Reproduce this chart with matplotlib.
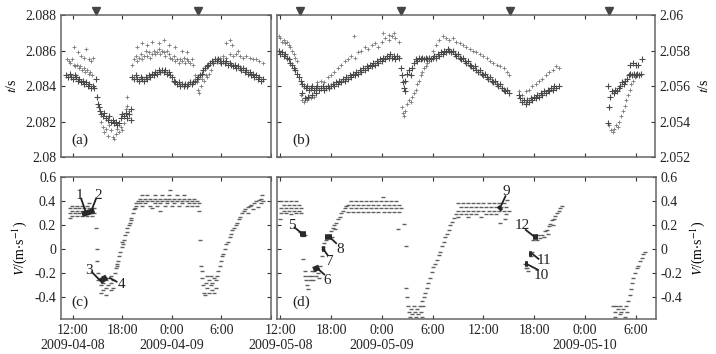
import numpy as np
import matplotlib
matplotlib.use("Agg")
import matplotlib.pyplot as plt
from matplotlib.transforms import blended_transform_factory

plt.rcParams['font.family'] = ['Liberation Serif', 'DejaVu Serif']
plt.rcParams['mathtext.fontset'] = 'stix'
plt.rcParams['axes.unicode_minus'] = False
plt.rcParams['font.size'] = 10

# time in hours from 00:00 of the first day of each record
# (a) travel time t/s, 2009-04-08 .. 04-09
ta_big = [(11.2,2.0846),(11.4,2.0845),(11.6,2.0847),(11.8,2.0845),(12.0,2.0844),(12.2,2.0846),(12.4,2.0845),(12.6,2.0843),
          (12.8,2.0844),(13.0,2.0842),(13.2,2.0843),(13.4,2.0841),(13.6,2.0842),(13.8,2.0840),(14.0,2.0841),(14.2,2.0839),
          (14.4,2.0840),(14.6,2.0839),(14.8,2.0844),(14.9,2.0834),(15.0,2.0830),(15.2,2.0828),(15.3,2.0826),
          (15.4,2.0824),(15.6,2.0823),(15.8,2.0825),(16.0,2.0822),(16.2,2.0821),(16.4,2.0823),(16.6,2.0820),(16.8,2.0821),
          (17.0,2.0819),(17.2,2.0820),(17.4,2.0818),(17.6,2.0819),(17.8,2.0822),(18.0,2.0824),(18.2,2.0823),(18.4,2.0825),
          (18.6,2.0822),(18.8,2.0824),(19.0,2.0821),(19.0,2.0827),
          (19.2,2.0845),(19.4,2.0844),(19.6,2.0846),(19.8,2.0844),(20.0,2.0843),(20.2,2.0845),(20.4,2.0844),(20.6,2.0843),
          (20.8,2.0845),(21.0,2.0844),(21.2,2.0846),(21.4,2.0845),(21.6,2.0847),(21.8,2.0846),(22.0,2.0848),(22.2,2.0847),
          (22.4,2.0849),(22.6,2.0848),(22.8,2.0849),(23.0,2.0848),(23.2,2.0849),(23.4,2.0847),(23.6,2.0848),(23.8,2.0846),
          (24.0,2.0845),(24.2,2.0843),(24.4,2.0842),(24.6,2.0841),(24.8,2.0842),(25.0,2.0840),(25.2,2.0841),(25.4,2.0840),
          (25.6,2.0841),(25.8,2.0840),(26.0,2.0841),(26.2,2.0842),(26.4,2.0841),(26.6,2.0842),(26.8,2.0843),(27.0,2.0844),
          (27.2,2.0845),(27.4,2.0846),(27.6,2.0847),(27.8,2.0849),(28.0,2.0850),(28.2,2.0851),(28.4,2.0852),(28.6,2.0853),
          (28.8,2.0854),(29.0,2.0853),(29.2,2.0855),(29.4,2.0854),(29.6,2.0855),(29.8,2.0854),(30.0,2.0853),(30.2,2.0854),
          (30.4,2.0853),(30.6,2.0854),(30.8,2.0852),(31.0,2.0853),(31.2,2.0852),(31.4,2.0851),(31.6,2.0852),(31.8,2.0850),
          (32.0,2.0851),(32.2,2.0850),(32.4,2.0849),(32.6,2.0850),(32.8,2.0848),(33.0,2.0849),(33.2,2.0847),(33.4,2.0848),
          (33.6,2.0846),(33.8,2.0847),(34.0,2.0845),(34.2,2.0846),(34.4,2.0844),(34.6,2.0845),(34.8,2.0843),(35.0,2.0844)]
ta_small = [(11.3,2.0855),(11.5,2.0854),(11.7,2.0853),(11.9,2.0855),(12.1,2.0852),(12.3,2.0851),(12.5,2.0852),(12.7,2.0850),
            (12.9,2.0851),(13.1,2.0849),(13.3,2.0850),(13.5,2.0848),(13.7,2.0849),(13.9,2.0847),(14.1,2.0848),(14.3,2.0846),
            (12.1,2.0862),(12.6,2.0859),(13.0,2.0857),(13.4,2.0856),(13.6,2.0861),(13.9,2.0855),(14.2,2.0854),(14.4,2.0856),
            (15.4,2.0820),(15.6,2.0817),(15.8,2.0814),(16.0,2.0816),(16.2,2.0812),(16.4,2.0818),(16.6,2.0815),(16.8,2.0811),
            (17.0,2.0810),(17.2,2.0813),(17.4,2.0816),(17.6,2.0814),(17.8,2.0817),(18.0,2.0815),(18.2,2.0819),(18.4,2.0827),
            (18.6,2.0829),(18.8,2.0826),(18.5,2.0834),
            (19.2,2.0852),(19.4,2.0855),(19.6,2.0857),(19.8,2.0854),(20.0,2.0856),(20.2,2.0858),(20.4,2.0855),(20.6,2.0857),
            (20.8,2.0860),(21.0,2.0857),(21.2,2.0859),(21.4,2.0856),(21.6,2.0858),(21.8,2.0860),(22.0,2.0858),(22.2,2.0859),
            (22.4,2.0861),(22.6,2.0858),(22.8,2.0860),(23.0,2.0859),(23.2,2.0857),(23.4,2.0860),(23.6,2.0858),(23.8,2.0856),
            (24.0,2.0855),(24.2,2.0857),(24.4,2.0854),(24.6,2.0855),(24.8,2.0853),(25.0,2.0855),(25.2,2.0854),(25.4,2.0856),
            (25.6,2.0853),(25.8,2.0855),(26.0,2.0854),(26.2,2.0853),(26.4,2.0855),(26.6,2.0852),
            (19.8,2.0862),(20.4,2.0864),(21.0,2.0863),(21.6,2.0865),(22.4,2.0864),(23.0,2.0866),(23.6,2.0863),(24.4,2.0862),
            (25.2,2.0860),(25.8,2.0859),
            (26.8,2.0846),(27.0,2.0842),(27.2,2.0838),(27.3,2.0836),(27.5,2.0840),(27.7,2.0844),(27.9,2.0843),(28.1,2.0846),
            (28.3,2.0845),(28.5,2.0847),(28.7,2.0849),
            (29.0,2.0853),(29.4,2.0855),(29.8,2.0856),(30.2,2.0857),(30.6,2.0856),(31.0,2.0858),(31.4,2.0857),(31.8,2.0858),
            (32.2,2.0857),(32.6,2.0856),(33.0,2.0857),(33.4,2.0856),(33.8,2.0855),(34.2,2.0855),(34.6,2.0854),(35.0,2.0853),
            (30.6,2.0864),(31.0,2.0866),(31.3,2.0863),(32.0,2.0860)]

# (b) travel time t/s, 2009-05-08 .. 05-10
tb_big = [(11.8,2.0580),(12.0,2.0578),(12.2,2.0579),(12.4,2.0577),(12.6,2.0578),(12.8,2.0576),(13.0,2.0575),(13.2,2.0573),
          (13.4,2.0572),(13.6,2.0570),(13.8,2.0569),(14.0,2.0567),(14.2,2.0565),(14.4,2.0563),(14.6,2.0561),(14.8,2.0560),
          (15.0,2.0559),(15.2,2.0560),(15.4,2.0558),(15.6,2.0559),(15.8,2.0560),(16.0,2.0558),(16.2,2.0559),(16.4,2.0560),
          (16.6,2.0558),(16.8,2.0559),(17.0,2.0560),(17.2,2.0558),(17.4,2.0559),(17.6,2.0560),(17.8,2.0559),(18.0,2.0560),
          (14.6,2.0556),(14.9,2.0553),(15.3,2.0554),(15.7,2.0555),(16.2,2.0556),
          (18.2,2.0561),(18.4,2.0560),(18.6,2.0562),(18.8,2.0561),(19.0,2.0563),(19.2,2.0562),(19.4,2.0564),(19.6,2.0563),
          (19.8,2.0565),(20.0,2.0564),(20.2,2.0566),(20.4,2.0565),(20.6,2.0567),(20.8,2.0566),(21.0,2.0568),(21.2,2.0567),
          (21.4,2.0569),(21.6,2.0568),(21.8,2.0570),(22.0,2.0569),(22.2,2.0571),(22.4,2.0570),(22.6,2.0572),(22.8,2.0571),
          (23.0,2.0573),(23.2,2.0572),(23.4,2.0574),(23.6,2.0573),(23.8,2.0575),(24.0,2.0574),(24.2,2.0576),(24.4,2.0575),
          (24.6,2.0577),(24.8,2.0576),(25.0,2.0578),(25.2,2.0576),(25.4,2.0577),(25.6,2.0575),(25.8,2.0577),(26.0,2.0576),
          (26.3,2.0570),(26.4,2.0566),(26.5,2.0562),(26.6,2.0559),(26.7,2.0557),(26.8,2.0563),(27.0,2.0567),(27.2,2.0569),
          (27.4,2.0566),(27.6,2.0570),(27.8,2.0573),(28.0,2.0575),(28.2,2.0574),(28.4,2.0576),(28.6,2.0575),(28.8,2.0576),
          (29.0,2.0575),(29.2,2.0576),(29.4,2.0575),(29.6,2.0576),(29.8,2.0575),(30.0,2.0576),(30.2,2.0577),(30.4,2.0576),
          (30.6,2.0578),(30.8,2.0577),(31.0,2.0579),(31.2,2.0578),(31.4,2.0580),(31.6,2.0579),(31.8,2.0581),(32.0,2.0580),
          (32.2,2.0579),(32.4,2.0580),(32.6,2.0578),(32.8,2.0577),(33.0,2.0578),(33.2,2.0576),(33.4,2.0575),(33.6,2.0576),
          (33.8,2.0574),(34.0,2.0573),(34.2,2.0574),(34.4,2.0572),(34.6,2.0571),(34.8,2.0570),(35.0,2.0571),(35.2,2.0569),
          (35.4,2.0568),(35.6,2.0569),(35.8,2.0567),(36.0,2.0566),(36.2,2.0567),(36.4,2.0565),(36.6,2.0564),(36.8,2.0565),
          (37.0,2.0563),(37.2,2.0562),(37.4,2.0563),(37.6,2.0561),(37.8,2.0560),(38.0,2.0561),(38.2,2.0559),(38.4,2.0558),
          (38.6,2.0557),(38.8,2.0558),(39.0,2.0556),
          (40.2,2.0555),(40.4,2.0553),(40.6,2.0551),(40.8,2.0552),(41.0,2.0550),(41.2,2.0552),(41.4,2.0551),(41.6,2.0553),
          (41.8,2.0552),(42.0,2.0554),(42.2,2.0553),(42.4,2.0555),(42.6,2.0554),(42.8,2.0556),(43.0,2.0555),(43.2,2.0557),
          (43.4,2.0556),(43.6,2.0558),(43.8,2.0557),(44.0,2.0559),(44.2,2.0558),(44.4,2.0560),(44.6,2.0559),(44.9,2.0560),
          (50.7,2.0560),(50.9,2.0548),(51.0,2.0554),(51.2,2.0557),(51.4,2.0556),(51.6,2.0558),(51.8,2.0557),(52.0,2.0559),
          (52.2,2.0560),(52.4,2.0562),(52.6,2.0561),(52.8,2.0563),(53.0,2.0564),(53.2,2.0566),(53.4,2.0567),(53.6,2.0566),
          (53.8,2.0567),(54.0,2.0566),(54.2,2.0567),(54.4,2.0566),(54.6,2.0567),(53.4,2.0572),(53.7,2.0573),(54.0,2.0572),
          (54.3,2.0572),(54.8,2.0575),(50.8,2.0539)]
tb_small = [(11.8,2.0588),(12.0,2.0587),(12.2,2.0585),(12.4,2.0586),(12.6,2.0584),(12.8,2.0585),(13.0,2.0583),(13.2,2.0582),
            (13.4,2.0580),(13.6,2.0578),(13.8,2.0576),(14.0,2.0574),
            (14.4,2.0555),(14.6,2.0552),(14.8,2.0551),(15.0,2.0553),(15.2,2.0552),(15.4,2.0554),(15.6,2.0553),(15.8,2.0555),
            (16.0,2.0554),
            (16.4,2.0562),(16.8,2.0563),(17.2,2.0562),(17.6,2.0565),(18.0,2.0566),(18.4,2.0568),(18.8,2.0570),(19.2,2.0572),
            (19.6,2.0574),(20.0,2.0575),(20.4,2.0577),(20.8,2.0576),(21.2,2.0579),(21.6,2.0580),(22.0,2.0582),(22.4,2.0581),
            (22.8,2.0583),(23.2,2.0584),(23.6,2.0582),(24.0,2.0585),(24.4,2.0587),(24.8,2.0586),(25.2,2.0588),(25.6,2.0587),
            (26.0,2.0585),(20.7,2.0588),(24.2,2.0590),(24.9,2.0589),(25.5,2.0590),
            (26.4,2.0548),(26.5,2.0545),(26.6,2.0543),(26.8,2.0546),(27.0,2.0550),(27.2,2.0552),(27.4,2.0551),(27.6,2.0554),
            (27.8,2.0556),(28.0,2.0558),(28.2,2.0561),(28.4,2.0563),(28.6,2.0566),(28.8,2.0568),(29.0,2.0570),(29.2,2.0571),
            (29.4,2.0573),(29.6,2.0574),
            (30.0,2.0580),(30.4,2.0583),(30.8,2.0586),(31.2,2.0588),(31.6,2.0587),(32.0,2.0586),(32.4,2.0587),(32.8,2.0585),
            (33.2,2.0584),(33.6,2.0583),(34.0,2.0582),(34.4,2.0581),(34.8,2.0580),(35.2,2.0579),(35.6,2.0578),(36.0,2.0577),
            (36.4,2.0576),(36.8,2.0574),(37.2,2.0573),(37.6,2.0572),(38.0,2.0571),(38.4,2.0570),(38.8,2.0568),(39.0,2.0566),
            (40.2,2.0557),(40.6,2.0555),(41.0,2.0557),(41.4,2.0558),(41.8,2.0560),(42.2,2.0561),(42.6,2.0563),(43.0,2.0564),
            (43.4,2.0566),(43.8,2.0568),(44.2,2.0569),(44.6,2.0571),(44.9,2.0570),
            (50.9,2.0538),(51.1,2.0535),(51.3,2.0534),(51.5,2.0536),(51.7,2.0538),(51.9,2.0537),(52.1,2.0540),(52.3,2.0543),
            (52.5,2.0546),(52.7,2.0549),(52.9,2.0552),(53.1,2.0555),(53.3,2.0558),(53.5,2.0561),(53.7,2.0563),(53.9,2.0565),
            (54.1,2.0566)]

# (c) velocity V/(m/s), 2009-04-08 .. 04-09
vc = [(11.6,0.34),(11.6,0.30),(11.6,0.26),(11.9,0.36),(11.9,0.32),(11.9,0.28),(12.2,0.34),(12.2,0.30),(12.5,0.36),
      (12.5,0.32),(12.5,0.28),(12.8,0.34),(12.8,0.30),(13.1,0.36),(13.1,0.32),(13.1,0.28),(13.4,0.34),(13.4,0.30),
      (13.7,0.36),(13.7,0.32),(13.7,0.28),(14.0,0.38),(14.0,0.34),(14.0,0.30),(14.3,0.32),(14.3,0.28),(14.6,0.34),
      (14.6,0.30),(14.8,0.18),(14.9,0.0),(14.9,-0.10),
      (15.1,-0.20),(15.1,-0.26),(15.4,-0.24),(15.4,-0.30),(15.4,-0.36),(15.7,-0.22),(15.7,-0.28),(15.7,-0.34),(16.0,-0.26),
      (16.0,-0.32),(16.0,-0.38),(16.3,-0.24),(16.3,-0.30),(16.6,-0.22),(16.6,-0.28),(16.6,-0.34),(16.9,-0.26),(16.9,-0.32),
      (17.1,-0.20),(17.2,-0.16),(17.3,-0.12),(17.4,-0.14),(17.5,-0.10),(17.6,-0.06),(17.7,-0.02),(17.9,0.02),(18.0,0.06),
      (18.1,0.04),(18.2,0.08),(18.3,0.12),(18.5,0.14),(18.6,0.18),(18.8,0.20),(18.9,0.22),(19.0,0.24),(19.1,0.26),
      (19.3,0.30),(19.4,0.33),(19.5,0.34),(19.6,0.36),(19.7,0.38),(19.9,0.40),
      (20.1,0.42),(20.1,0.38),(20.4,0.45),(20.4,0.40),(20.4,0.36),(20.7,0.42),(20.7,0.38),(21.0,0.45),(21.0,0.40),
      (21.3,0.42),(21.3,0.36),(21.6,0.40),(21.6,0.34),(21.9,0.45),(21.9,0.42),(21.9,0.38),(22.2,0.40),(22.2,0.36),
      (22.5,0.42),(22.5,0.38),(22.8,0.45),(22.8,0.40),(23.1,0.42),(23.1,0.36),(23.4,0.40),(23.4,0.38),(23.7,0.45),
      (23.7,0.42),(24.0,0.40),(24.0,0.36),(24.3,0.42),(24.3,0.38),(24.6,0.45),(24.6,0.40),(24.9,0.42),(24.9,0.36),
      (25.2,0.40),(25.2,0.38),(25.5,0.45),(25.5,0.42),(25.8,0.40),(25.8,0.36),(26.1,0.42),(26.1,0.38),(26.4,0.40),
      (26.4,0.36),(26.7,0.42),(26.7,0.38),(27.0,0.40),(27.0,0.36),(27.3,0.38),(27.3,0.32),(23.8,0.49),(22.6,0.32),
      (27.4,0.08),
      (27.5,-0.14),(27.6,-0.18),(27.7,-0.24),(27.8,-0.30),(27.9,-0.36),(28.0,-0.38),(28.1,-0.28),(28.3,-0.22),(28.3,-0.32),
      (28.5,-0.26),(28.5,-0.36),(28.7,-0.22),(28.7,-0.30),(28.9,-0.28),(28.9,-0.34),(29.1,-0.24),(29.1,-0.36),(29.3,-0.26),
      (29.3,-0.32),(29.5,-0.22),
      (29.6,-0.18),(29.8,-0.14),(29.9,-0.10),(30.1,-0.06),(30.2,-0.04),(30.4,0.00),(30.6,0.04),(30.8,0.06),(31.0,0.10),
      (31.1,0.13),(31.3,0.16),(31.5,0.18),(31.7,0.20),(31.9,0.22),(32.1,0.25),(32.3,0.27),(32.5,0.30),(32.7,0.32),
      (32.9,0.33),(33.2,0.35),(33.4,0.36),(33.6,0.37),(33.9,0.38),(34.2,0.40),(34.5,0.41),(34.8,0.42),(34.8,0.38),
      (34.4,0.35),(33.8,0.33),(33.2,0.30),(35.0,0.40),(34.9,0.45)]

# (d) velocity V/(m/s), 2009-05-08 .. 05-10
vd = [(12.1,0.40),(12.1,0.34),(12.1,0.30),(12.4,0.37),(12.4,0.32),(12.7,0.40),(12.7,0.34),(12.7,0.30),(13.0,0.37),
      (13.0,0.32),(13.3,0.40),(13.3,0.34),(13.3,0.29),(13.6,0.37),(13.6,0.32),(13.9,0.40),(13.9,0.34),(13.9,0.30),
      (14.2,0.37),(14.2,0.32),(14.5,0.34),(14.5,0.30),(12.0,0.25),
      (14.3,0.14),(14.6,0.13),(14.9,0.12),(14.7,0.11),(14.7,-0.08),
      (14.9,-0.18),(14.9,-0.22),(15.1,-0.26),(15.2,-0.30),(15.3,-0.33),(15.4,-0.22),(15.5,-0.26),(15.7,-0.18),(15.7,-0.22),
      (15.9,-0.26),(16.0,-0.18),(16.2,-0.22),(16.3,-0.16),(16.5,-0.20),(16.6,-0.24),(16.7,-0.14),
      (16.9,-0.06),(17.0,0.00),(17.1,0.02),(17.2,0.05),(17.4,0.08),(17.6,0.10),(17.8,0.12),(18.0,0.15),(18.1,0.10),
      (18.2,0.18),(18.4,0.20),(18.5,0.17),(18.6,0.22),(18.8,0.25),(19.0,0.27),(19.2,0.30),(19.4,0.32),(19.6,0.34),
      (19.8,0.36),
      (20.0,0.37),(20.0,0.31),(20.3,0.40),(20.3,0.34),(20.6,0.37),(20.6,0.31),(20.9,0.40),(20.9,0.34),(21.2,0.37),
      (21.2,0.31),(21.5,0.40),(21.5,0.34),(21.8,0.37),(21.8,0.31),(22.1,0.40),(22.1,0.34),(22.4,0.37),(22.4,0.31),
      (22.7,0.40),(22.7,0.34),(23.0,0.37),(23.0,0.31),(23.3,0.40),(23.3,0.34),(23.6,0.37),(23.6,0.31),(23.9,0.40),
      (23.9,0.34),(24.2,0.37),(24.2,0.31),(24.5,0.40),(24.5,0.34),(24.8,0.37),(24.8,0.31),(25.1,0.40),(25.1,0.34),
      (25.4,0.37),(25.4,0.31),(25.7,0.40),(25.7,0.34),(26.0,0.37),(26.0,0.31),(26.3,0.34),(24.1,0.43),(25.9,0.17),
      (26.6,0.21),(26.8,0.03),
      (26.9,-0.32),(27.0,-0.40),(27.1,-0.47),(27.2,-0.52),(27.3,-0.56),(27.5,-0.50),(27.6,-0.54),(27.8,-0.47),(27.9,-0.52),
      (28.0,-0.56),(28.2,-0.50),(28.3,-0.54),(28.5,-0.47),(28.6,-0.52),(28.8,-0.56),(28.9,-0.47),
      (28.8,-0.43),(29.0,-0.40),(29.1,-0.36),(29.3,-0.32),(29.5,-0.28),(29.7,-0.24),(29.9,-0.19),(30.1,-0.15),(30.3,-0.12),
      (30.5,-0.09),(30.7,-0.05),(30.9,-0.02),(31.1,0.03),(31.3,0.06),(31.5,0.10),(31.7,0.13),(31.9,0.16),(32.1,0.20),
      (32.3,0.23),(32.5,0.26),(32.7,0.29),
      (33.0,0.38),(33.0,0.32),(33.0,0.27),(33.3,0.35),(33.3,0.29),(33.6,0.38),(33.6,0.32),(33.9,0.35),(33.9,0.29),
      (34.2,0.38),(34.2,0.32),(34.2,0.27),(34.5,0.35),(34.5,0.29),(34.8,0.38),(34.8,0.32),(35.1,0.35),(35.1,0.29),
      (35.4,0.38),(35.4,0.32),(35.7,0.35),(35.7,0.27),(36.0,0.38),(36.0,0.32),(36.3,0.35),(36.3,0.29),(36.6,0.38),
      (36.6,0.32),(36.9,0.35),(36.9,0.29),(37.2,0.38),(37.2,0.32),(37.5,0.35),(37.5,0.29),(37.8,0.38),(37.8,0.32),
      (38.1,0.35),(38.4,0.38),(38.4,0.32),(38.7,0.35),(38.7,0.29),(39.0,0.32),(37.9,0.22),(38.5,0.25),(38.8,0.41),
      (41.0,-0.16),(41.2,-0.16),(40.9,-0.12),(41.3,-0.18),(41.6,-0.06),(41.7,-0.02),(41.9,0.08),(42.1,0.10),(42.3,0.08),
      (42.5,0.12),(42.7,0.09),(42.9,0.12),(43.1,0.10),
      (43.3,0.15),(43.5,0.16),(43.6,0.13),(43.7,0.19),(43.9,0.21),(44.1,0.24),(44.2,0.20),(44.3,0.25),(44.5,0.28),
      (44.7,0.30),(44.9,0.32),(45.1,0.34),(45.3,0.36),
      (51.3,-0.47),(51.5,-0.52),(51.5,-0.56),(51.7,-0.47),(51.9,-0.50),(52.1,-0.54),(52.1,-0.47),(52.3,-0.52),(52.5,-0.50),
      (52.7,-0.56),(52.8,-0.47),(53.0,-0.52),(53.1,-0.43),(53.3,-0.38),(53.4,-0.33),(53.6,-0.28),(53.7,-0.24),(53.9,-0.20),
      (54.1,-0.16),(54.3,-0.14),(54.5,-0.10),(54.7,-0.07),(54.9,-0.04),(55.1,-0.02)]

# highlighted sample windows: label, h0, h1, v0, v1
marks_c = [('1', 13.1, 14.6, 0.29, 0.32), ('3', 15.3, 16.1, -0.27, -0.23)]
marks_d = [('5', 14.3, 15.0, 0.13, 0.13), ('6', 15.9, 16.6, -0.17, -0.15), ('7', 16.9, 17.3, 0.0, 0.0),
           ('8', 17.3, 18.1, 0.10, 0.10), ('9', 37.8, 38.1, 0.33, 0.35), ('10', 40.9, 41.3, -0.12, -0.12),
           ('11', 41.4, 41.7, -0.04, -0.04), ('12', 41.9, 42.4, 0.10, 0.10)]

# tidal markers (triangles on top)
tri_a = [14.75, 27.1]
tri_b = [14.35, 26.25, 39.2, 50.85]

ticks_a = [12, 18, 24, 30, 36]
labels_c = ['12:00\n2009-04-08', '18:00', '0:00\n2009-04-09', '6:00', '']
ticks_b = [12, 18, 24, 30, 36, 42, 48, 54]
labels_d = ['12:00\n2009-05-08', '18:00', '0:00\n2009-05-09', '6:00', '12:00', '18:00', '0:00\n2009-05-10', '6:00']

fig = plt.figure(figsize=(7.16, 3.54), dpi=100)
ax_a = fig.add_axes([0.0852, 0.5565, 0.2933, 0.4011])
ax_b = fig.add_axes([0.3869, 0.5565, 0.5279, 0.4011])
ax_c = fig.add_axes([0.0852, 0.0989, 0.2933, 0.4011])
ax_d = fig.add_axes([0.3869, 0.0989, 0.5293, 0.4011])


def style(ax):
    for s in ax.spines.values():
        s.set_color('#666666')
        s.set_linewidth(1.1)
    ax.tick_params(direction='in', top=True, right=True, length=3, width=0.8, colors='#333333',
                   labelsize=10, labelcolor='#222222')


for ax, big, small, xl in [(ax_a, ta_big, ta_small, (10.56, 35.9)), (ax_b, tb_big, tb_small, (11.62, 56.3))]:
    bh, bv = zip(*big)
    sh, sv = zip(*small)
    ax.plot(sh, sv, '+', ms=3, mew=0.6, color='#7a7a7a')
    ax.plot(bh, bv, '+', ms=5, mew=0.8, color='#4a4a4a')
    ax.set_xlim(*xl)
    style(ax)

for ax, tri in [(ax_a, tri_a), (ax_b, tri_b)]:
    tr = blended_transform_factory(ax.transData, ax.transAxes)
    ax.plot(tri, [1.025] * len(tri), 'v', ms=6, color='#444444', transform=tr, clip_on=False)

ax_a.set_ylim(2.08, 2.088)
ax_a.set_yticks([2.08, 2.082, 2.084, 2.086, 2.088])
ax_a.set_yticklabels(['2.08', '2.082', '2.084', '2.086', '2.088'])
ax_a.set_ylabel(r'$t$/s', fontsize=10)
ax_a.set_xticks(ticks_a)
ax_a.set_xticklabels([])

ax_b.set_ylim(2.052, 2.06)
ax_b.set_yticks([2.052, 2.054, 2.056, 2.058, 2.06])
ax_b.set_yticklabels(['2.052', '2.054', '2.056', '2.058', '2.06'])
ax_b.yaxis.tick_right()
ax_b.yaxis.set_label_position('right')
ax_b.tick_params(left=True)
ax_b.set_ylabel(r'$t$/s', fontsize=10)
ax_b.set_xticks(ticks_b)
ax_b.set_xticklabels([])

for ax, pts, xl in [(ax_c, vc, (10.56, 35.9)), (ax_d, vd, (11.62, 56.38))]:
    h, v = zip(*pts)
    ax.plot(h, v, '_', ms=2.6, mew=1.0, color='#606060')
    ax.set_xlim(*xl)
    ax.set_ylim(-0.58, 0.6)
    ax.set_yticks([-0.4, -0.2, 0, 0.2, 0.4, 0.6])
    ax.set_yticklabels(['-0.4', '-0.2', '0', '0.2', '0.4', '0.6'])
    style(ax)

ax_c.set_xticks(ticks_a)
ax_c.set_xticklabels(labels_c)
ax_c.set_ylabel(r'$V$/(m$\cdot$s$^{-1}$)', fontsize=10)
ax_d.set_xticks(ticks_b)
ax_d.set_xticklabels(labels_d)
ax_d.yaxis.tick_right()
ax_d.yaxis.set_label_position('right')
ax_d.tick_params(left=True)
ax_d.set_ylabel(r'$V$/(m$\cdot$s$^{-1}$)', fontsize=10)

for ax, marks in [(ax_c, marks_c), (ax_d, marks_d)]:
    for lab, h0, h1, v0, v1 in marks:
        ax.plot([h0, h1], [v0, v1], '-', lw=4, color='#2a2a2a', solid_capstyle='butt')

# label text position, line start, line end
ann_c = [('1', (12.8, 0.45), (13.0, 0.42), (13.5, 0.32)), ('2', (15.1, 0.45), (14.8, 0.42), (14.3, 0.33)),
         ('3', (13.9, -0.18), (14.3, -0.19), (15.3, -0.26)), ('4', (17.9, -0.29), (17.3, -0.27), (16.5, -0.24))]
ann_d = [('5', (13.35, 0.20), (13.7, 0.18), (14.4, 0.14)), ('6', (17.5, -0.26), (17.2, -0.21), (16.4, -0.16)),
         ('7', (17.9, -0.10), (17.6, -0.05), (17.2, -0.01)), ('8', (19.1, 0.0), (18.6, 0.05), (18.0, 0.09)),
         ('9', (38.7, 0.48), (38.6, 0.44), (38.0, 0.35)), ('12', (40.6, 0.20), (41.0, 0.16), (41.9, 0.11)),
         ('11', (43.2, -0.09), (42.5, -0.08), (41.8, -0.04)), ('10', (42.8, -0.22), (42.4, -0.17), (41.3, -0.13))]
for ax, anns in [(ax_c, ann_c), (ax_d, ann_d)]:
    for lab, txy, p0, p1 in anns:
        ax.text(txy[0], txy[1], lab, ha='center', va='center', fontsize=11, color='#222222')
        ax.plot([p0[0], p1[0]], [p0[1], p1[1]], '-', lw=1.3, color='#222222')

for ax, lab, xf in [(ax_a, '(a)', 0.05), (ax_b, '(b)', 0.04), (ax_c, '(c)', 0.05), (ax_d, '(d)', 0.04)]:
    ax.text(xf, 0.12, lab, transform=ax.transAxes, fontsize=11, color='#222222', va='center')

fig.savefig('out.png', dpi=100)
